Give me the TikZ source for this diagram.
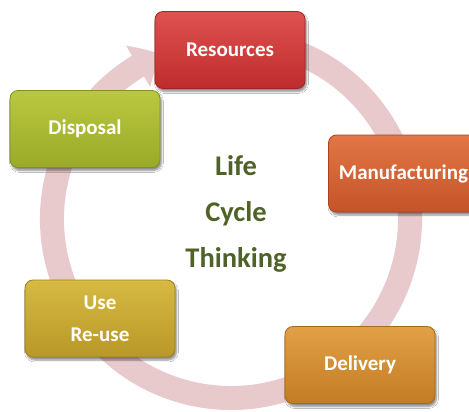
\documentclass[tikz,border=0pt]{standalone}
\usepackage{fontspec}
\setmainfont{Carlito}
\usetikzlibrary{arrows.meta,bending,shadows.blur}
\definecolor{ringc}{HTML}{E8CACD}
\definecolor{txtgreen}{HTML}{4F6228}
\begin{document}
\begin{tikzpicture}[x=1pt,y=1pt,
  stagebox/.style={rounded corners=8pt, minimum width=150pt, minimum height=77pt,
    text=white, font=\bfseries\fontsize{21}{32}\selectfont, align=center,
    line width=0.8pt,
    blur shadow={shadow xshift=1.5pt, shadow yshift=-3pt, shadow blur steps=6, shadow opacity=45}},
  ring/.style={draw=ringc, line width=24pt}
]
\clip (0,0) rectangle (469,-412);
\fill[white] (0,0) rectangle (469,-412);
\coordinate (c) at (231,-219);
\draw[ring, -{Triangle[width=46pt,length=26pt,bend]}]
  ([shift={(c)}]75:179) arc[start angle=75, end angle=-247, radius=179];
\node[stagebox, top color={rgb,255:red,222;green,82;blue,80},
      bottom color={rgb,255:red,190;green,44;blue,44}, draw={rgb,255:red,160;green,36;blue,36}]
  (res) at (230,-50) {Resources};
\node[stagebox, top color={rgb,255:red,186;green,200;blue,64}, bottom color={rgb,255:red,154;green,170;blue,40},
      draw={rgb,255:red,130;green,145;blue,30}]
  (disp) at (85,-129) {Disposal};
\node[stagebox, top color={rgb,255:red,226;green,118;blue,70}, bottom color={rgb,255:red,196;green,84;blue,40},
      draw={rgb,255:red,165;green,68;blue,30}]
  (man) at (403.5,-173.5) {Manufacturing};
\node[stagebox, top color={rgb,255:red,226;green,160;blue,70}, bottom color={rgb,255:red,194;green,124;blue,36},
      draw={rgb,255:red,165;green,104;blue,28}]
  (del) at (360,-365) {Delivery};
\node[stagebox, top color={rgb,255:red,214;green,186;blue,66}, bottom color={rgb,255:red,184;green,152;blue,40},
      draw={rgb,255:red,155;green,128;blue,30}]
  (use) at (100,-318.5) {Use\\Re-use};
\node[text=txtgreen, font=\bfseries\fontsize{28.5}{46}\selectfont, align=center]
  (title) at (236,-214) {Life\\Cycle\\Thinking};
\end{tikzpicture}
\end{document}
